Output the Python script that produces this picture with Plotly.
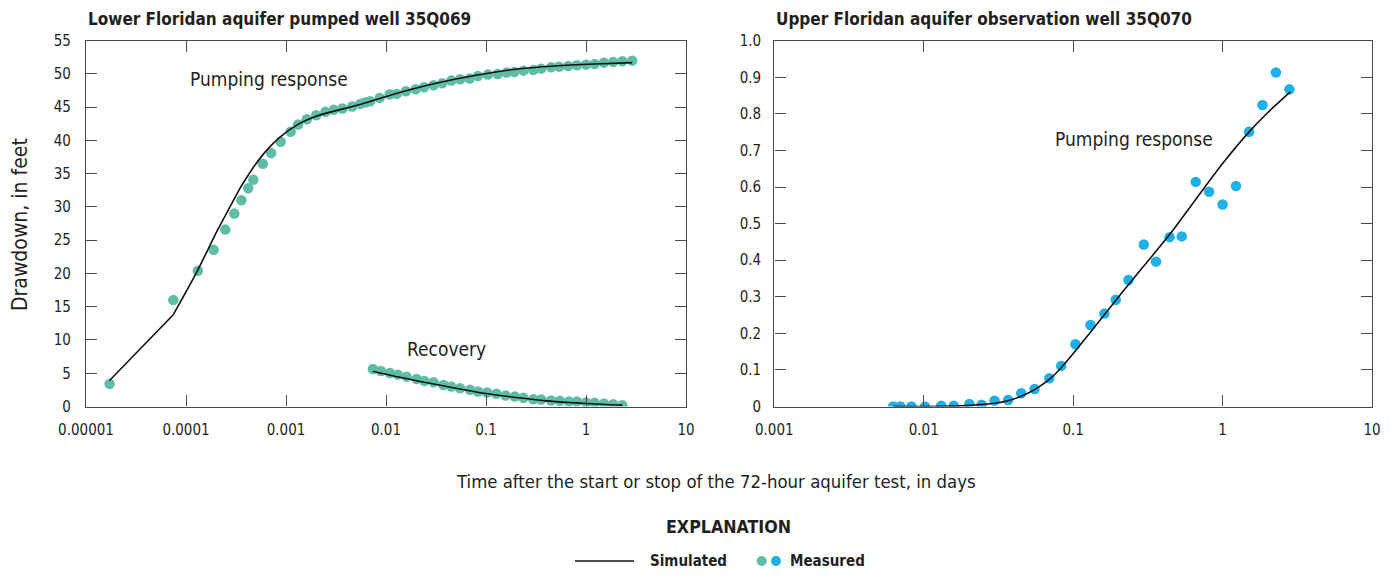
import plotly.graph_objects as go

# ---------------- data ----------------
# Left panel: Lower Floridan aquifer pumped well 35Q069
pump_t = [1.72e-5, 7.46e-5, 1.315e-4, 1.89e-4, 2.47e-4, 3.04e-4, 3.58e-4, 4.19e-4, 4.71e-4,
          5.86e-4, 7.11e-4, 8.85e-4, 1.112e-3, 1.321e-3, 1.614e-3, 2.01e-3, 2.48e-3, 3.00e-3,
          3.66e-3, 4.60e-3, 5.53e-3, 6.17e-3, 6.95e-3, 8.65e-3, 0.01086, 0.0128, 0.0158, 0.0198,
          0.0240, 0.0299, 0.0365, 0.0450, 0.0551, 0.0685, 0.0830, 0.1042, 0.131, 0.161, 0.192,
          0.237, 0.297, 0.356, 0.448, 0.538, 0.664, 0.811, 1.0, 1.22, 1.51, 1.87, 2.31, 2.90]
pump_dd = [3.4, 16.0, 20.4, 23.55, 26.6, 29.0, 31.0, 32.8, 34.1, 36.5, 38.1, 39.8, 41.3, 42.4,
           43.2, 43.8, 44.3, 44.6, 44.8, 45.1, 45.5, 45.7, 45.9, 46.4, 46.9, 47.0, 47.4, 47.7,
           48.0, 48.3, 48.6, 49.0, 49.2, 49.3, 49.7, 49.9, 50.0, 50.2, 50.3, 50.5, 50.6, 50.8,
           51.0, 51.1, 51.2, 51.3, 51.4, 51.5, 51.7, 51.8, 51.9, 52.0]
# simulated: early straight segment, then smooth curve
pump_sim_early_t = [1.72e-5, 7.46e-5]
pump_sim_early_dd = [3.9, 13.8]
pump_sim_t = [7.46e-5, 1.28e-4, 2.03e-4, 2.75e-4, 3.5e-4, 4.2e-4, 4.9e-4, 6.3e-4, 8.71e-4,
              1.28e-3, 2.07e-3, 5.13e-3, 0.0129, 0.0316, 0.0794, 0.197, 0.49, 1.22, 2.90]
pump_sim_dd = [13.8, 20.2, 26.3, 30.0, 32.9, 34.8, 36.3, 38.4, 40.5, 42.3, 43.7, 45.3, 47.1,
               48.6, 49.8, 50.7, 51.2, 51.5, 51.7]

rec_t = [0.00740, 0.00889, 0.01096, 0.01315, 0.01607, 0.0202, 0.0242, 0.0299, 0.0375, 0.0450,
         0.0551, 0.0692, 0.0830, 0.1023, 0.127, 0.157, 0.194, 0.237, 0.297, 0.356, 0.448, 0.548,
         0.676, 0.811, 1.0, 1.22, 1.51, 1.87, 2.31]
rec_dd = [5.64, 5.34, 5.04, 4.79, 4.49, 4.14, 3.84, 3.64, 3.24, 2.99, 2.74, 2.50, 2.25, 2.10,
          1.90, 1.65, 1.50, 1.30, 1.10, 1.05, 0.90, 0.85, 0.75, 0.75, 0.60, 0.55, 0.45, 0.35, 0.20]
rec_sim_t = [0.0074, 0.0126, 0.0251, 0.0501, 0.1, 0.2, 0.398, 0.794, 1.585, 2.31]
rec_sim_dd = [5.3, 4.5, 3.6, 2.75, 1.95, 1.35, 0.85, 0.55, 0.3, 0.2]

# Right panel: Upper Floridan aquifer observation well 35Q070
obs_t = [0.00624, 0.00698, 0.00828, 0.01019, 0.0131, 0.0159, 0.0202, 0.0244, 0.0298, 0.0367,
         0.0449, 0.0552, 0.0692, 0.0832, 0.1035, 0.1306, 0.1618, 0.1928, 0.2344, 0.297, 0.359,
         0.442, 0.533, 0.661, 0.813, 1.0, 1.23, 1.503, 1.849, 2.275, 2.80]
obs_dd = [0, 0, 0, 0, 0.002, 0.002, 0.007, 0.005, 0.016, 0.018, 0.036, 0.048, 0.077, 0.111,
          0.170, 0.223, 0.254, 0.292, 0.346, 0.443, 0.396, 0.463, 0.465, 0.614, 0.587, 0.552,
          0.603, 0.751, 0.824, 0.913, 0.867]
obs_sim_t = [0.00624, 0.01, 0.0159, 0.0202, 0.0298, 0.0367, 0.0449, 0.0552, 0.0692, 0.0832,
             0.1035, 0.1306, 0.1928, 0.2344, 0.297, 0.442, 0.661, 1.0, 1.5, 2.0, 2.84]
obs_sim_dd = [0, 0, 0.001, 0.003, 0.009, 0.016, 0.028, 0.046, 0.074, 0.106, 0.152, 0.203,
              0.29, 0.333, 0.384, 0.47, 0.566, 0.664, 0.75, 0.803, 0.86]

left_xticks = [1e-5, 1e-4, 1e-3, 1e-2, 1e-1, 1, 10]
left_xlabels = ["0.00001", "0.0001", "0.001", "0.01", "0.1", "1", "10"]
right_xticks = [1e-3, 1e-2, 1e-1, 1, 10]
right_xlabels = ["0.001", "0.01", "0.1", "1", "10"]
left_yticks = list(range(0, 56, 5))
left_ylabels = [str(v) for v in left_yticks]
right_yticks = [i / 10 for i in range(0, 11)]
right_ylabels = ["0", "0.1", "0.2", "0.3", "0.4", "0.5", "0.6", "0.7", "0.8", "0.9", "1.0"]

# ---------------- style ----------------
W, H = 1391, 575
FONT = "DejaVu Sans Condensed, Liberation Sans Narrow, sans-serif"
TEAL = "#5ebea5"
BLUE = "#1eb0e6"
FRAME = "#4a4a4a"
TXT = "#231f20"
LINE = "#111111"


def px(x):
    return x / W


def py(y):
    return 1 - y / H


fig = go.Figure()

mk = dict(size=10.5, line=dict(width=0))
fig.add_trace(go.Scatter(x=pump_t, y=pump_dd, mode="markers", marker=dict(color=TEAL, **mk),
                         xaxis="x", yaxis="y", showlegend=False))
fig.add_trace(go.Scatter(x=rec_t, y=rec_dd, mode="markers", marker=dict(color=TEAL, **mk),
                         xaxis="x", yaxis="y", showlegend=False))
fig.add_trace(go.Scatter(x=pump_sim_early_t, y=pump_sim_early_dd, mode="lines",
                         line=dict(color=LINE, width=1.6), xaxis="x", yaxis="y",
                         showlegend=False))
fig.add_trace(go.Scatter(x=pump_sim_t, y=pump_sim_dd, mode="lines", line_shape="spline",
                         line=dict(color=LINE, width=1.6, smoothing=0.8), xaxis="x", yaxis="y",
                         showlegend=False))
fig.add_trace(go.Scatter(x=rec_sim_t, y=rec_sim_dd, mode="lines", line_shape="spline",
                         line=dict(color=LINE, width=1.6), xaxis="x", yaxis="y",
                         showlegend=False))
fig.add_trace(go.Scatter(x=obs_t, y=obs_dd, mode="markers", marker=dict(color=BLUE, **mk),
                         xaxis="x2", yaxis="y2", showlegend=False))
fig.add_trace(go.Scatter(x=obs_sim_t, y=obs_sim_dd, mode="lines", line_shape="spline",
                         line=dict(color=LINE, width=1.6, smoothing=0.8), xaxis="x2",
                         yaxis="y2", showlegend=False))

ax_common = dict(showline=True, linecolor=FRAME, linewidth=1.4, mirror="ticks", ticks="inside",
                 ticklen=11, tickwidth=1.4, tickcolor=FRAME, showgrid=False, zeroline=False,
                 automargin=False, tickfont=dict(family=FONT, size=15, color=TXT),
                 fixedrange=True)

ydom = [py(406.5), py(40.7)]
fig.update_layout(
    template="none",
    width=W, height=H, margin=dict(l=0, r=0, t=0, b=0, autoexpand=False),
    paper_bgcolor="white", plot_bgcolor="white", showlegend=False,
    xaxis=dict(domain=[px(86), px(686)], type="log", range=[-5, 1], tickmode="array",
               tickvals=left_xticks, ticktext=left_xlabels, anchor="y", ticklabelstandoff=9,
               **ax_common),
    yaxis=dict(domain=ydom, range=[0, 55], tickmode="array", tickvals=left_yticks,
               ticktext=left_ylabels, anchor="x", ticklabelstandoff=11, **ax_common),
    xaxis2=dict(domain=[px(774.3), px(1372)], type="log", range=[-3, 1], tickmode="array",
                tickvals=right_xticks, ticktext=right_xlabels, anchor="y2", ticklabelstandoff=9,
                **ax_common),
    yaxis2=dict(domain=ydom, range=[0, 1.0], tickmode="array", tickvals=right_yticks,
                ticktext=right_ylabels, anchor="x2", ticklabelstandoff=9, **ax_common),
)


def text(x, y, s, size, xref="paper", yref="paper", xanchor="center", bold=False, angle=0):
    return dict(x=x, y=y, xref=xref, yref=yref, xanchor=xanchor, yanchor="middle",
                text=f"<b>{s}</b>" if bold else s, showarrow=False, textangle=angle,
                font=dict(family=FONT, size=size, color=TXT))


ann = [
    # panel titles
    text(px(86), py(19), "Lower Floridan aquifer pumped well 35Q069", 17, xanchor="left", bold=True),
    text(px(774.3), py(19), "Upper Floridan aquifer observation well 35Q070", 17, xanchor="left",
         bold=True),
    # in-plot labels (data coordinates; log axes use log10 units)
    text(-3.168, 49.2, "Pumping response", 19, xref="x", yref="y"),
    text(-1.395, 8.6, "Recovery", 19, xref="x", yref="y"),
    text(-0.592, 0.731, "Pumping response", 19, xref="x2", yref="y2"),
    # axis titles
    text(px(20), py(225), "Drawdown, in feet", 21, angle=-90),
    text(px(716), py(481), "Time after the start or stop of the 72-hour aquifer test, in days", 18.4),
    # explanation
    text(px(728.3), py(527), "EXPLANATION", 17.7, bold=True),
    text(px(648), py(561), "Simulated", 15, xanchor="left", bold=True),
    text(px(787.5), py(561), "Measured", 15, xanchor="left", bold=True),
]
fig.update_layout(annotations=ann)

shapes = [
    dict(type="line", xref="paper", yref="paper", x0=px(575), x1=px(634), y0=py(561), y1=py(561),
         line=dict(color=LINE, width=1.6)),
    dict(type="circle", xref="paper", yref="paper", x0=px(756.7), x1=px(766.7), y0=py(556),
         y1=py(566), fillcolor=TEAL, line=dict(width=0)),
    dict(type="circle", xref="paper", yref="paper", x0=px(771), x1=px(781), y0=py(556),
         y1=py(566), fillcolor=BLUE, line=dict(width=0)),
]
fig.update_layout(shapes=shapes)

fig.write_html(
    "out.html",
    config={"displayModeBar": False},
    post_script="document.body.style.margin='0';document.body.style.overflow='hidden';",
)
